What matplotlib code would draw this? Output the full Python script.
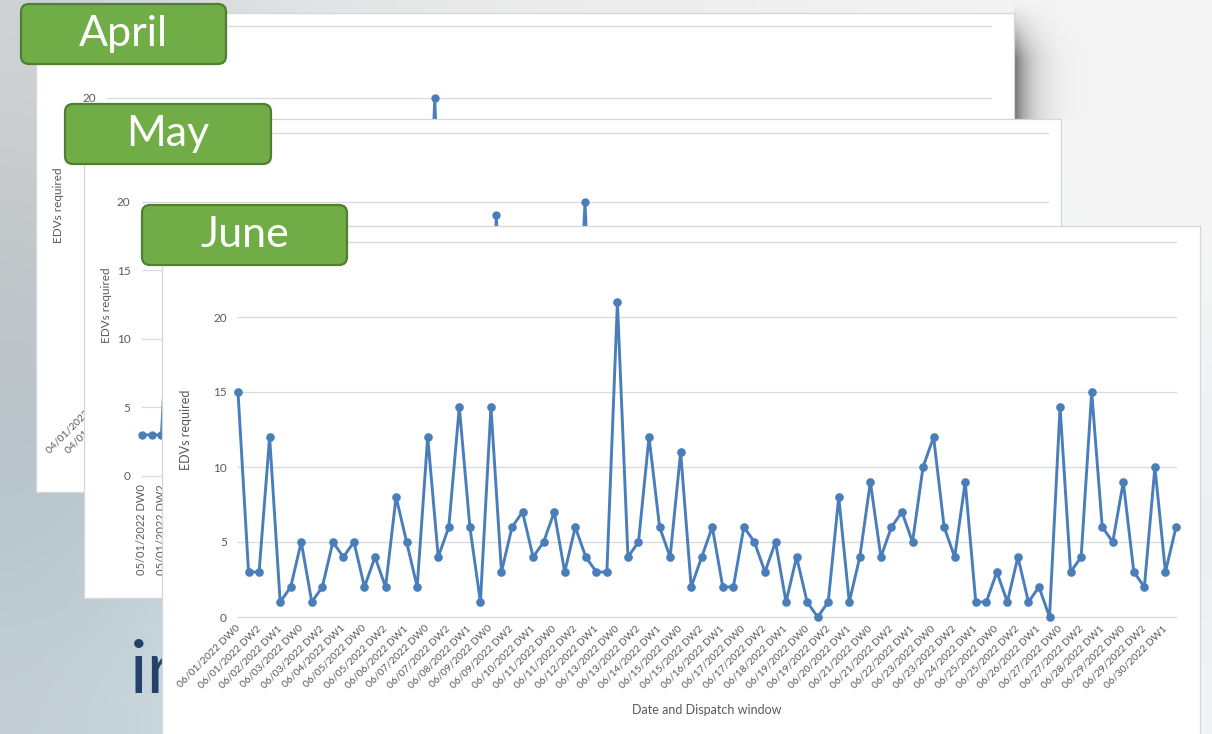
import numpy as np
import matplotlib
matplotlib.use("Agg")
import matplotlib.pyplot as plt
from matplotlib.patches import Rectangle, FancyBboxPatch
from matplotlib.colors import to_rgb

plt.rcParams["font.family"] = ["Lato", "DejaVu Sans"]

W, H = 1212, 734
LINE = "#4a7ebb"
GRID = "#d9d9d9"
TXT = "#595959"

# June 2022: three dispatch windows per day
june_days = [f"06/{d:02d}/2022" for d in range(1, 31)]
windows = ["DW0", "DW1", "DW2"]
june_labels = [f"{d} {w}" for d in june_days for w in windows]
june_edvs = [15, 3, 3, 12, 1, 2, 5, 1, 2, 5,
             4, 5, 2, 4, 2, 8, 5, 2, 12, 4,
             6, 14, 6, 1, 14, 3, 6, 7, 4, 5,
             7, 3, 6, 4, 3, 3, 21, 4, 5, 12,
             6, 4, 11, 2, 4, 6, 2, 2, 6, 5,
             3, 5, 1, 4, 1, 0, 1, 8, 1, 4,
             9, 4, 6, 7, 5, 10, 12, 6, 4, 9,
             1, 1, 3, 1, 4, 1, 2, 0, 14, 3,
             4, 15, 6, 5, 9, 3, 2, 10, 3, 6]

# May and April charts are mostly covered, only the visible points are known
may_labels = [f"05/{d:02d}/2022 {w}" for d in range(1, 32) for w in windows]
may_idx = [0, 1, 2, 3, 35, 36, 37, 44, 45, 46]
may_vals = [3, 3, 3, 17, 4, 19, 5, 5, 20, 4]

april_labels = [f"04/{d:02d}/2022 {w}" for d in range(1, 31) for w in windows]
april_idx = [32, 33, 34]
april_vals = [3, 20, 2]

y_ticks = [0, 5, 10, 15, 20, 25]
y_ticklabels = ["0", "5", "10", "15", "20", "25"]


def px_rect(x0, y0, x1, y1):
    return [x0 / W, 1 - y1 / H, (x1 - x0) / W, (y1 - y0) / H]


fig = plt.figure(figsize=(W / 100, H / 100), dpi=100)

# background (blurred slide behind the screenshots)
bg = fig.add_axes([0, 0, 1, 1], zorder=0)
grid_cols = [
    ["#cfd2d4", "#e3e5e6", "#ebebeb", "#eeeeee", "#f2f2f2", "#f5f5f5"],
    ["#c3c7ca", "#d4d8da", "#e6e7e8", "#eeeeee", "#f2f2f2", "#f5f5f5"],
    ["#bcc3c7", "#ccd3d7", "#dfe4e7", "#eceff0", "#f2f3f4", "#f2f4f5"],
    ["#b5c4cc", "#cde0ea", "#d8e9f1", "#e0eef4", "#e8f1f5", "#e8f0f5"],
    ["#c2ced3", "#d6e7ef", "#e2eff5", "#e8f2f6", "#ecf4f7", "#eef4f7"],
]
bg_img = np.array([[to_rgb(c) for c in row] for row in grid_cols])
bg.imshow(bg_img, extent=[0, W, H, 0], aspect="auto", interpolation="bicubic")
# drop shadow right of the April screenshot
xs = np.linspace(0, 1, 80)
ys = np.linspace(0, 1, 60)
sh = np.zeros((60, 80, 4))
sh[..., 3] = 0.55 * np.exp(-xs[None, :] * 5.5) * np.clip(ys[:, None] * 2.0, 0, 1) ** 1.3
bg.imshow(sh, extent=[1014, 1100, 119, 0], aspect="auto", interpolation="bilinear")
bg.text(130, 693, "ir", fontsize=53, color="#26406c", va="baseline", ha="left")
bg.set_xlim(0, W)
bg.set_ylim(H, 0)
bg.axis("off")


def add_card(x0, y0, x1, y1, z):
    fig.add_artist(Rectangle((x0 / W, 1 - y1 / H), (x1 - x0) / W, (y1 - y0) / H,
                             transform=fig.transFigure, facecolor="white",
                             edgecolor="#d6d6d6", lw=0.9, zorder=z))


def add_tag(x0, y0, x1, y1, text, z):
    fig.add_artist(FancyBboxPatch((x0 / 100, (H - y1) / 100), (x1 - x0) / 100, (y1 - y0) / 100,
                                  boxstyle="round,pad=0,rounding_size=0.08",
                                  transform=fig.dpi_scale_trans, facecolor="#70ad47",
                                  edgecolor="#507e32", lw=1.6, zorder=z))
    fig.text((x0 + x1) / 2 / W, 1 - (y0 + y1) / 2 / H, text, color="white", fontsize=31,
             ha="center", va="center", zorder=z + 0.1)


def style_axes(ax, n, ypad):
    ax.set_xlim(0, n - 1)
    ax.set_ylim(0, 25)
    ax.set_yticks(y_ticks)
    ax.set_yticklabels(y_ticklabels)
    ax.yaxis.grid(True, color=GRID, lw=0.9)
    for gl in ax.get_ygridlines():
        gl.set_clip_on(False)
    for s in ax.spines.values():
        s.set_visible(False)
    ax.tick_params(axis="both", length=0, colors=TXT, labelsize=8.5)
    ax.tick_params(axis="y", pad=ypad)
    ax.set_facecolor("none")


# ---- April ----
add_card(36, 13, 1014, 492, 1)
ax_a = fig.add_axes(px_rect(107, 26, 991, 384), zorder=2)
a_series = np.full(len(april_labels), np.nan)
a_series[april_idx] = april_vals
ax_a.plot(range(len(april_labels)), a_series, color=LINE, lw=2, marker="o", ms=5, clip_on=False)
style_axes(ax_a, len(april_labels), 8)
ax_a.set_xticks(range(0, len(april_labels), 2))
ax_a.set_xticklabels(april_labels[::2], rotation=45, ha="right", va="center",
                     rotation_mode="anchor", fontsize=7.5)
ax_a.tick_params(axis="x", pad=6)
fig.text(59 / W, 1 - 205 / H, "EDVs required", rotation=90, ha="center", va="center",
         color=TXT, fontsize=8.5, zorder=2.5)
add_tag(21, 4, 226, 64, "April", 3)

# ---- May ----
add_card(84, 119, 1061, 598, 4)
ax_m = fig.add_axes(px_rect(141.7, 133, 1048, 476), zorder=5)
m_series = np.full(len(may_labels), np.nan)
m_series[may_idx] = may_vals
ax_m.plot(range(len(may_labels)), m_series, color=LINE, lw=2, marker="o", ms=5, clip_on=False)
style_axes(ax_m, len(may_labels), 8)
ax_m.set_xticks(range(0, len(may_labels), 2))
ax_m.set_xticklabels(may_labels[::2], rotation=90, ha="right", va="center",
                     rotation_mode="anchor", fontsize=8)
ax_m.tick_params(axis="x", pad=6)
fig.text(107 / W, 1 - 305 / H, "EDVs required", rotation=90, ha="center", va="center",
         color=TXT, fontsize=8.5, zorder=5.5)
add_tag(65, 104, 271, 164, "May", 6)

# ---- June ----
add_card(162, 226, 1200, 745, 7)
ax_j = fig.add_axes(px_rect(238, 242, 1176, 617), zorder=8)
ax_j.plot(range(len(june_edvs)), june_edvs, color=LINE, lw=2.1, marker="o", ms=5.2,
          clip_on=False)
style_axes(ax_j, len(june_edvs), 8)
ax_j.set_xticks(range(0, len(june_labels), 2))
ax_j.set_xticklabels(june_labels[::2], rotation=45, ha="right", va="center",
                     rotation_mode="anchor", fontsize=7.5)
ax_j.tick_params(axis="x", pad=7)
fig.text(186 / W, 1 - 430 / H, "EDVs required", rotation=90, ha="center", va="center",
         color=TXT, fontsize=9, zorder=8.5)
fig.text(707 / W, 1 - 710 / H, "Date and Dispatch window", ha="center", va="center",
         color=TXT, fontsize=9, zorder=8.5)
add_tag(142, 205, 347, 265, "June", 9)

fig.savefig("out.png", dpi=100)
